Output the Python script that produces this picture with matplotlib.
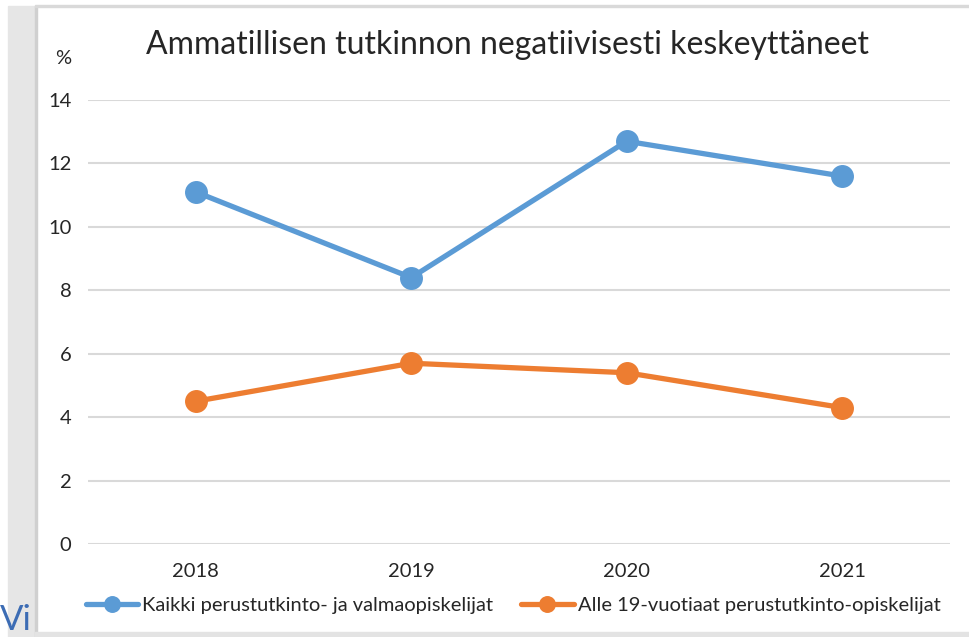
import matplotlib.pyplot as plt
from matplotlib.patches import Rectangle

years = ["2018", "2019", "2020", "2021"]
kaikki = [11.1, 8.4, 12.7, 11.6]
alle19 = [4.5, 5.7, 5.4, 4.3]
labels = ["Kaikki perustutkinto- ja valmaopiskelijat",
          "Alle 19-vuotiaat perustutkinto-opiskelijat"]
title = "Ammatillisen tutkinnon negatiivisesti keskeyttäneet"

plt.rcParams['font.family'] = ['Lato', 'DejaVu Sans']

W, H = 969, 637
fig = plt.figure(figsize=(W / 100, H / 100), dpi=100)

# screenshot frame: gray strip on the left, gray lines top and bottom
fig.patches.append(Rectangle((8 / W, 0), 27 / W, 1 - 6 / H, transform=fig.transFigure,
                             color='#e6e6e6', zorder=0))
fig.patches.append(Rectangle((35 / W, 0), 2 / W, 1 - 6 / H, transform=fig.transFigure,
                             color='#d0d0d0', zorder=0))
fig.patches.append(Rectangle((35 / W, 1 - 7 / H), 1, 2 / H, transform=fig.transFigure,
                             color='#d9d9d9', zorder=0))
fig.patches.append(Rectangle((35 / W, 0), 1, 5 / H, transform=fig.transFigure,
                             color='#e3e3e3', zorder=0))
fig.text(0 / W, 1 / H, "Vi", fontsize=25, color='#3c6cb4', ha='left', va='bottom')

ax = fig.add_axes([88 / W, 1 - 544 / H, 862 / W, 444 / H])
x = range(len(years))
l1, = ax.plot(x, kaikki, color='#5b9bd5', lw=3.8, marker='o', ms=15.5, solid_capstyle='round',
              label=labels[0], zorder=3)
l2, = ax.plot(x, alle19, color='#ed7d31', lw=3.8, marker='o', ms=15.5, solid_capstyle='round',
              label=labels[1], zorder=3)

ax.set_xlim(-0.5, 3.5)
ax.set_ylim(0, 14)
ax.set_yticks(range(0, 15, 2))
ax.set_xticks(list(x))
ax.set_xticklabels(years)
ax.grid(axis='y', color='#d9d9d9', lw=1.5)
ax.set_axisbelow(True)
for s in ax.spines.values():
    s.set_visible(False)
ax.tick_params(length=0, labelsize=14.5, colors='#262626', pad=12)
ax.tick_params(axis='x', pad=14)

fig.text(63 / W, 1 - 58 / H, "%", fontsize=14.5, color='#262626', ha='center', va='center')
fig.text(507 / W, 1 - 45 / H, title, fontsize=23, color='#262626', ha='center', va='center')

fig.legend(handles=[l1, l2], loc='center', bbox_to_anchor=(513 / W, 1 - 605 / H), ncol=2,
           frameon=False, fontsize=14.5, handlelength=2.6, handletextpad=0.2,
           columnspacing=1.4, markerscale=0.72, labelcolor='#262626')

fig.savefig("out.png", dpi=100)
